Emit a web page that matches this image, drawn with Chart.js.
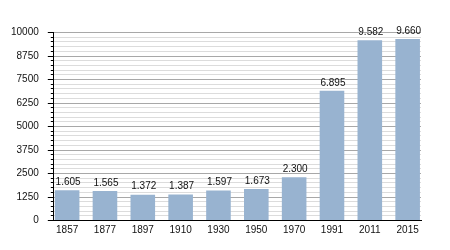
<!DOCTYPE html>
<html>
<head>
<meta charset="utf-8">
<script src="https://cdn.jsdelivr.net/npm/chart.js@4/dist/chart.umd.min.js"></script>
<style>
  html, body { margin: 0; padding: 0; background: #fff; }
</style>
</head>
<body>
<canvas id="graficoPoblacion" width="450" height="250"></canvas>
<script>
// Datos
const anios = ['1857', '1877', '1897', '1910', '1930', '1950', '1970', '1991', '2011', '2015'];
const habitantes = [1605, 1565, 1372, 1387, 1597, 1673, 2300, 6895, 9582, 9660];
const ticksEje = [0, 1250, 2500, 3750, 5000, 6250, 7500, 8750, 10000];

const fuente = { family: "'Liberation Sans', Arial, sans-serif", size: 10 };

// Formato con punto de miles
const formatoMiles = (n) => String(n).replace(/\B(?=(\d{3})+(?!\d))/g, '.');

// Etiquetas de valor sobre cada barra
const etiquetasValor = {
    id: 'etiquetasValor',
    afterDatasetsDraw(chart) {
        const ctx = chart.ctx;
        const meta = chart.getDatasetMeta(0);
        ctx.save();
        ctx.font = `${fuente.size}px ${fuente.family}`;
        ctx.fillStyle = '#111';
        ctx.textAlign = 'center';
        ctx.textBaseline = 'bottom';
        meta.data.forEach((bar, i) => {
            ctx.fillText(formatoMiles(habitantes[i]), bar.x + 1, bar.y - 3);
        });
        ctx.restore();
    }
};

const esMayor = (v) => ticksEje.includes(v);

new Chart(document.getElementById('graficoPoblacion'), {
    type: 'bar',
    data: {
        datasets: [{
            data: habitantes.map((v, i) => ({ x: i, y: v })),
            backgroundColor: '#98b3d0',
            borderWidth: 0,
            barPercentage: 0.65,
            categoryPercentage: 1
        }]
    },
    options: {
        responsive: false,
        animation: false,
        devicePixelRatio: 1,
        layout: { padding: { left: 2, right: 29, top: 32.5, bottom: 9.5 } },
        plugins: {
            legend: { display: false },
            tooltip: { enabled: false }
        },
        scales: {
            x: {
                type: 'linear',
                offset: false,
                min: -0.352,
                max: 9.353,
                grid: { display: false, drawTicks: false },
                border: { display: true, color: '#000', width: 1 },
                ticks: {
                    stepSize: 1,
                    includeBounds: false,
                    autoSkip: false,
                    padding: 4,
                    color: '#111',
                    font: fuente,
                    maxRotation: 0,
                    callback: (v) => Number.isInteger(v) ? anios[v] : ''
                }
            },
            y: {
                min: 0,
                max: 10000,
                border: { display: true, color: '#000', width: 1 },
                grid: {
                    color: (c) => esMayor(c.tick.value) ? '#a8a8a8' : '#dcdcdc',
                    tickColor: '#000',
                    tickLength: 6,
                    tickBorderDash: (c) => esMayor(c.tick.value) ? [] : [3, 3],
                    tickBorderDashOffset: (c) => esMayor(c.tick.value) ? 0 : 3
                },
                ticks: {
                    stepSize: 250,
                    autoSkip: false,
                    padding: 9,
                    color: '#111',
                    font: fuente,
                    callback: (v) => esMayor(v) ? String(v) : ''
                }
            }
        }
    },
    plugins: [etiquetasValor]
});
</script>
</body>
</html>
